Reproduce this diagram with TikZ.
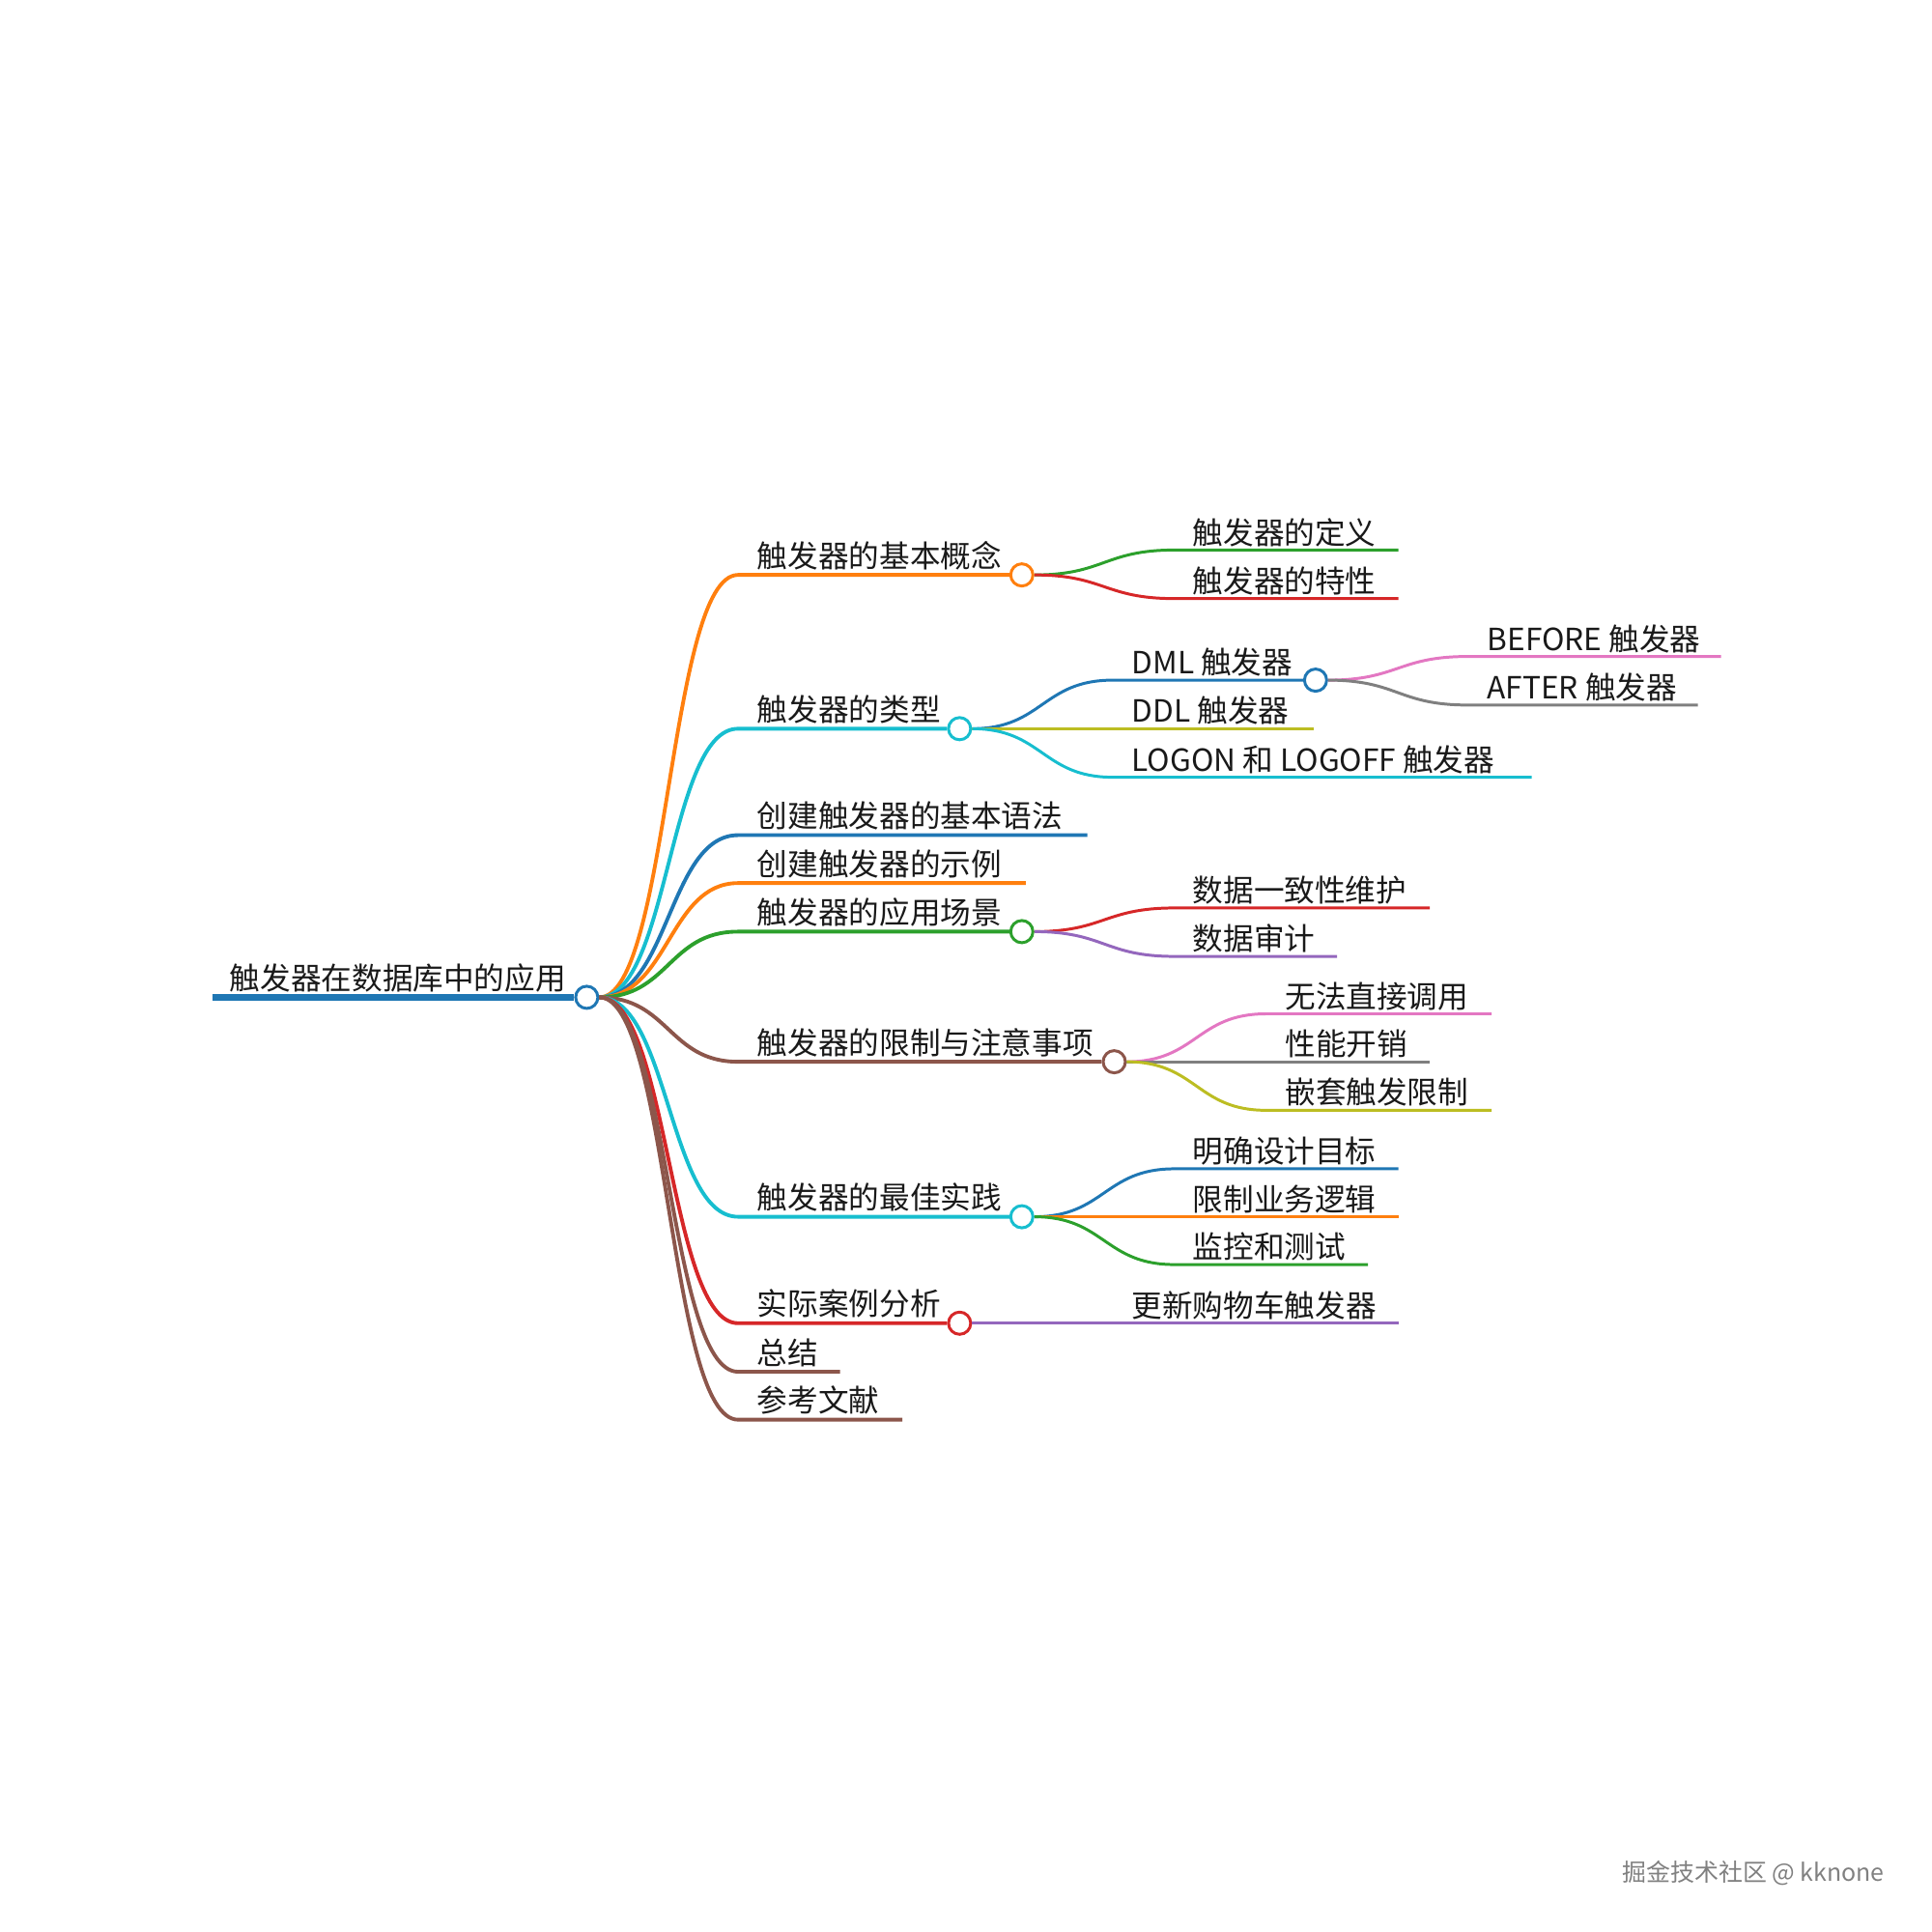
\documentclass[tikz,border=0pt]{standalone}
\usepackage{fontspec}
\setmainfont{Noto Sans CJK SC}
\usetikzlibrary{calc}

\definecolor{mmblue}{HTML}{1F77B4}
\definecolor{mmorange}{HTML}{FF7F0E}
\definecolor{mmgreen}{HTML}{2CA02C}
\definecolor{mmred}{HTML}{D62728}
\definecolor{mmpurple}{HTML}{9467BD}
\definecolor{mmbrown}{HTML}{8C564B}
\definecolor{mmpink}{HTML}{E377C2}
\definecolor{mmgray}{HTML}{7F7F7F}
\definecolor{mmolive}{HTML}{BCBD22}
\definecolor{mmcyan}{HTML}{17BECF}

\begin{document}
\begin{tikzpicture}[
    x=0.012755cm, y=-0.012755cm,
    font=\fontsize{9}{11}\selectfont,
    lbl/.style={anchor=base west, inner sep=0pt, text=black!90},
    dot/.style={circle, draw=#1, fill=white, line width=0.85pt, minimum size=2.3mm, inner sep=0pt},
    trunk/.style={line width=2.2pt},
    br/.style={line width=1.1pt},
    tw/.style={line width=0.85pt},
    link/.style={to path={let \p1=(\tikztostart), \p2=(\tikztotarget) in
      .. controls ({0.5*\x1+0.5*\x2},\y1) and ({0.5*\x1+0.5*\x2},\y2) .. (\tikztotarget)}},
  ]
  \useasboundingbox (0,0) rectangle (1568,1568);

  % root
  \node[dot=mmblue] (rootdot) at (476.2,809.4) {};
  \coordinate (roots) at (172.5,809.4);
  \node[lbl] (root) at (186,803) {触发器在数据库中的应用};
  \draw[mmblue, trunk] (roots) -- (rootdot.west);

  % first level
  \node[dot=mmorange] (conceptdot) at (829.3,466.6) {};
  \coordinate (concepts) at (599,466.6);
  \node[lbl] (concept) at (614,460.3) {触发器的基本概念};
  \draw[mmorange, br] (rootdot.east) to[link] (concepts) -- (conceptdot.west);

  \node[dot=mmcyan] (typesdot) at (778.8,591.4) {};
  \coordinate (typess) at (599,591.4);
  \node[lbl] (types) at (614,585.1) {触发器的类型};
  \draw[mmcyan, br] (rootdot.east) to[link] (typess) -- (typesdot.west);

  \coordinate (syntaxs) at (599,677.8);
  \coordinate (syntaxe) at (882.5,677.8);
  \node[lbl] (syntax) at (614,671.5) {创建触发器的基本语法};
  \draw[mmblue, br] (rootdot.east) to[link] (syntaxs) -- (syntaxe);

  \coordinate (samples) at (599,716.7);
  \coordinate (samplee) at (832.4,716.7);
  \node[lbl] (sample) at (614,710.4) {创建触发器的示例};
  \draw[mmorange, br] (rootdot.east) to[link] (samples) -- (samplee);

  \node[dot=mmgreen] (usagedot) at (829.3,756.1) {};
  \coordinate (usages) at (599,756.1);
  \node[lbl] (usage) at (614,749.8) {触发器的应用场景};
  \draw[mmgreen, br] (rootdot.east) to[link] (usages) -- (usagedot.west);

  \node[dot=mmbrown] (limitsdot) at (904.3,861.7) {};
  \coordinate (limitss) at (599,861.7);
  \node[lbl] (limits) at (614,855.4) {触发器的限制与注意事项};
  \draw[mmbrown, br] (rootdot.east) to[link] (limitss) -- (limitsdot.west);

  \node[dot=mmcyan] (practicedot) at (829.3,987.5) {};
  \coordinate (practices) at (599,987.5);
  \node[lbl] (practice) at (614,981.2) {触发器的最佳实践};
  \draw[mmcyan, br] (rootdot.east) to[link] (practices) -- (practicedot.west);

  \node[dot=mmred] (casesdot) at (778.8,1073.9) {};
  \coordinate (casess) at (599,1073.9);
  \node[lbl] (cases) at (614,1067.6) {实际案例分析};
  \draw[mmred, br] (rootdot.east) to[link] (casess) -- (casesdot.west);

  \coordinate (summarys) at (599,1113.3);
  \coordinate (summarye) at (681.8,1113.3);
  \node[lbl] (summary) at (614,1107) {总结};
  \draw[mmbrown, br] (rootdot.east) to[link] (summarys) -- (summarye);

  \coordinate (refss) at (599,1152.2);
  \coordinate (refse) at (732.3,1152.2);
  \node[lbl] (refs) at (614,1145.9) {参考文献};
  \draw[mmbrown, br] (rootdot.east) to[link] (refss) -- (refse);

  % second level
  \coordinate (defs) at (953,446.4);
  \coordinate (defe) at (1135,446.4);
  \node[lbl] (def) at (967.5,441.4) {触发器的定义};
  \draw[mmgreen, tw] (conceptdot.east) to[link] (defs) -- (defe);

  \coordinate (traits) at (953,485.8);
  \coordinate (traite) at (1135,485.8);
  \node[lbl] (trait) at (967.5,480.8) {触发器的特性};
  \draw[mmred, tw] (conceptdot.east) to[link] (traits) -- (traite);

  \node[dot=mmblue] (dmldot) at (1067.7,552) {};
  \coordinate (dmls) at (903,552);
  \node[lbl] (dml) at (918,547) {DML 触发器};
  \draw[mmblue, tw] (typesdot.east) to[link] (dmls) -- (dmldot.west);

  \coordinate (ddls) at (903,591.4);
  \coordinate (ddle) at (1066,591.4);
  \node[lbl] (ddl) at (918,586.4) {DDL 触发器};
  \draw[mmolive, tw] (typesdot.east) to[link] (ddls) -- (ddle);

  \coordinate (logons) at (903,630.8);
  \coordinate (logone) at (1243.2,630.8);
  \node[lbl] (logon) at (918,625.8) {LOGON 和 LOGOFF 触发器};
  \draw[mmcyan, tw] (typesdot.east) to[link] (logons) -- (logone);

  \coordinate (befores) at (1191,532.8);
  \coordinate (beforee) at (1396.8,532.8);
  \node[lbl] (before) at (1206.5,527.8) {BEFORE 触发器};
  \draw[mmpink, tw] (dmldot.east) to[link] (befores) -- (beforee);

  \coordinate (afters) at (1191,572.2);
  \coordinate (aftere) at (1378,572.2);
  \node[lbl] (after) at (1206.5,567.2) {AFTER 触发器};
  \draw[mmgray, tw] (dmldot.east) to[link] (afters) -- (aftere);

  \coordinate (consists) at (953,736.9);
  \coordinate (consiste) at (1160.3,736.9);
  \node[lbl] (consist) at (967.5,731.9) {数据一致性维护};
  \draw[mmred, tw] (usagedot.east) to[link] (consists) -- (consiste);

  \coordinate (audits) at (953,776.2);
  \coordinate (audite) at (1085.1,776.2);
  \node[lbl] (audit) at (967.5,771.2) {数据审计};
  \draw[mmpurple, tw] (usagedot.east) to[link] (audits) -- (audite);

  \coordinate (nocalls) at (1027.5,822.8);
  \coordinate (nocalle) at (1210.5,822.8);
  \node[lbl] (nocall) at (1042.5,817.8) {无法直接调用};
  \draw[mmpink, tw] (limitsdot.east) to[link] (nocalls) -- (nocalle);

  \coordinate (perfs) at (1027.5,861.7);
  \coordinate (perfe) at (1160.3,861.7);
  \node[lbl] (perf) at (1042.5,856.7) {性能开销};
  \draw[mmgray, tw] (limitsdot.east) to[link] (perfs) -- (perfe);

  \coordinate (nests) at (1027.5,901.1);
  \coordinate (neste) at (1210.5,901.1);
  \node[lbl] (nest) at (1042.5,896.1) {嵌套触发限制};
  \draw[mmolive, tw] (limitsdot.east) to[link] (nests) -- (neste);

  \coordinate (goals) at (953,948.6);
  \coordinate (goale) at (1135,948.6);
  \node[lbl] (goal) at (967.5,943.6) {明确设计目标};
  \draw[mmblue, tw] (practicedot.east) to[link] (goals) -- (goale);

  \coordinate (logics) at (953,987.5);
  \coordinate (logice) at (1135,987.5);
  \node[lbl] (logic) at (967.5,982.5) {限制业务逻辑};
  \draw[mmorange, tw] (practicedot.east) to[link] (logics) -- (logice);

  \coordinate (monitors) at (953,1026.3);
  \coordinate (monitore) at (1110.2,1026.3);
  \node[lbl] (monitor) at (967.5,1021.3) {监控和测试};
  \draw[mmgreen, tw] (practicedot.east) to[link] (monitors) -- (monitore);

  \coordinate (carts) at (903,1073.9);
  \coordinate (carte) at (1135,1073.9);
  \node[lbl] (cart) at (918,1068.9) {更新购物车触发器};
  \draw[mmpurple, tw] (casesdot.east) to[link] (carts) -- (carte);

  \node[lbl, text=black!50, font=\fontsize{7.1}{8}\selectfont] (mark) at (1316,1527) {掘金技术社区 @ kknone};
\end{tikzpicture}
\end{document}
